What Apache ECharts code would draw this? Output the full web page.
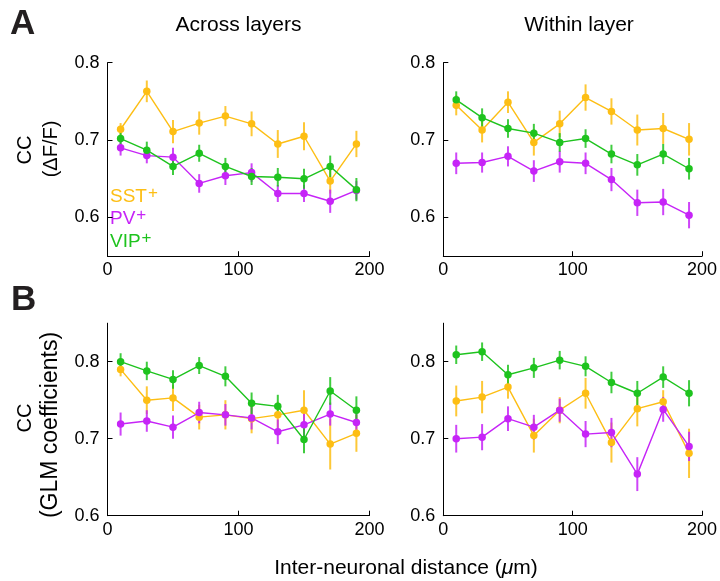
<!DOCTYPE html>
<html>
<head>
<meta charset="utf-8">
<script src="https://cdn.jsdelivr.net/npm/echarts@6/dist/echarts.min.js"></script>
<style>
html,body{margin:0;padding:0;background:#fff;}
#chart{width:720px;height:581px;}
</style>
</head>
<body>
<div id="chart"></div>
<script>
// ---- Data ----
const distances = [10, 30, 50, 70, 90, 110, 130, 150, 170, 190];
const xTicks = [0, 100, 200];
const yTicks = [0.6, 0.7, 0.8];

// Panel A, across layers
const sstA1 = [0.714, 0.763, 0.711, 0.722, 0.731, 0.721, 0.695, 0.705, 0.647, 0.695];
const sstA1err = [0.008, 0.014, 0.015, 0.015, 0.013, 0.016, 0.018, 0.018, 0.016, 0.017];
const pvA1 = [0.690, 0.680, 0.678, 0.644, 0.654, 0.658, 0.631, 0.631, 0.621, 0.635];
const pvA1err = [0.010, 0.010, 0.012, 0.012, 0.012, 0.012, 0.011, 0.011, 0.015, 0.012];
const vipA1 = [0.702, 0.687, 0.666, 0.683, 0.666, 0.653, 0.652, 0.650, 0.666, 0.636];
const vipA1err = [0.008, 0.011, 0.011, 0.011, 0.011, 0.011, 0.012, 0.013, 0.014, 0.015];

// Panel A, within layer
const sstA2 = [0.745, 0.713, 0.749, 0.697, 0.721, 0.755, 0.737, 0.713, 0.715, 0.701];
const sstA2err = [0.013, 0.016, 0.014, 0.017, 0.017, 0.017, 0.017, 0.020, 0.020, 0.021];
const pvA2 = [0.670, 0.671, 0.679, 0.660, 0.672, 0.670, 0.649, 0.619, 0.620, 0.603];
const pvA2err = [0.014, 0.013, 0.013, 0.014, 0.014, 0.014, 0.015, 0.017, 0.017, 0.017];
const vipA2 = [0.752, 0.729, 0.715, 0.709, 0.697, 0.702, 0.682, 0.668, 0.682, 0.663];
const vipA2err = [0.011, 0.012, 0.012, 0.012, 0.012, 0.012, 0.012, 0.014, 0.013, 0.014];

// Panel B, across layers
const sstB1 = [0.790, 0.750, 0.753, 0.728, 0.731, 0.726, 0.731, 0.737, 0.693, 0.707];
const sstB1err = [0.009, 0.018, 0.017, 0.016, 0.019, 0.019, 0.017, 0.026, 0.033, 0.024];
const pvB1 = [0.719, 0.723, 0.715, 0.734, 0.731, 0.727, 0.709, 0.718, 0.732, 0.721];
const pvB1err = [0.015, 0.014, 0.015, 0.014, 0.014, 0.015, 0.016, 0.016, 0.015, 0.015];
const vipB1 = [0.800, 0.788, 0.777, 0.795, 0.781, 0.746, 0.742, 0.699, 0.762, 0.737];
const vipB1err = [0.011, 0.012, 0.012, 0.011, 0.013, 0.014, 0.015, 0.018, 0.018, 0.018];

// Panel B, within layer
const sstB2 = [0.749, 0.754, 0.767, 0.704, 0.737, 0.759, 0.695, 0.739, 0.748, 0.681];
const sstB2err = [0.020, 0.021, 0.015, 0.022, 0.017, 0.020, 0.026, 0.023, 0.015, 0.032];
const pvB2 = [0.700, 0.702, 0.726, 0.715, 0.737, 0.706, 0.708, 0.654, 0.738, 0.690];
const pvB2err = [0.018, 0.017, 0.016, 0.016, 0.015, 0.017, 0.019, 0.022, 0.016, 0.019];
const vipB2 = [0.809, 0.813, 0.783, 0.792, 0.802, 0.794, 0.773, 0.759, 0.780, 0.759];
const vipB2err = [0.012, 0.012, 0.013, 0.013, 0.012, 0.013, 0.014, 0.016, 0.014, 0.017];

const colors = { SST: '#FDBE14', PV: '#C624F7', VIP: '#1EC31E' };

const panels = [
  { grid: { left: 107.5, width: 262, top: 62.7, height: 193.5 }, yMin: 0.55, yMax: 0.8,
    sets: [['SST', sstA1, sstA1err], ['PV', pvA1, pvA1err], ['VIP', vipA1, vipA1err]] },
  { grid: { left: 443.3, width: 261, top: 62.7, height: 193.5 }, yMin: 0.55, yMax: 0.8,
    sets: [['SST', sstA2, sstA2err], ['PV', pvA2, pvA2err], ['VIP', vipA2, vipA2err]] },
  { grid: { left: 107.5, width: 262, top: 323.2, height: 192.5 }, yMin: 0.6, yMax: 0.85,
    sets: [['SST', sstB1, sstB1err], ['PV', pvB1, pvB1err], ['VIP', vipB1, vipB1err]] },
  { grid: { left: 443.3, width: 261, top: 323.2, height: 192.5 }, yMin: 0.6, yMax: 0.85,
    sets: [['SST', sstB2, sstB2err], ['PV', pvB2, pvB2err], ['VIP', vipB2, vipB2err]] }
];

const FONT = '"Liberation Sans", Arial, Helvetica, sans-serif';

const grids = [], xAxes = [], yAxes = [], series = [];
panels.forEach((p, i) => {
  grids.push(Object.assign({ containLabel: false }, p.grid));
  xAxes.push({
    type: 'value', gridIndex: i, min: 0, max: 200, interval: 100,
    axisLine: { show: true, onZero: false, lineStyle: { color: '#000', width: 1 } },
    axisTick: { show: true, inside: true, length: 5, lineStyle: { color: '#000' } },
    axisLabel: { show: true, color: '#000', fontSize: 18, fontFamily: FONT, margin: 5,
      customValues: xTicks },
    splitLine: { show: false }
  });
  yAxes.push({
    type: 'value', gridIndex: i, min: p.yMin, max: p.yMax,
    axisLine: { show: true, onZero: false, lineStyle: { color: '#000', width: 1 } },
    axisTick: { show: true, inside: true, length: 5, lineStyle: { color: '#000' }, customValues: yTicks },
    axisLabel: { show: true, color: '#000', fontSize: 18, fontFamily: FONT, margin: 8,
      padding: [4, 0, 0, 0], customValues: yTicks, formatter: v => v.toFixed(1) },
    splitLine: { show: false }
  });
  p.sets.forEach(([name, vals, errs]) => {
    const col = colors[name];
    series.push({
      type: 'custom', xAxisIndex: i, yAxisIndex: i, silent: true, clip: false,
      data: distances.map((d, k) => [d, vals[k], errs[k]]),
      encode: { x: 0, y: 1 },
      renderItem: (params, api) => {
        const x = api.value(0), y = api.value(1), e = api.value(2);
        const p1 = api.coord([x, y - e]), p2 = api.coord([x, y + e]);
        return { type: 'line', shape: { x1: p1[0], y1: p1[1], x2: p2[0], y2: p2[1] },
          style: { stroke: col, lineWidth: 2, opacity: 0.85 } };
      }
    });
    series.push({
      type: 'line', xAxisIndex: i, yAxisIndex: i, name: name, silent: true,
      data: distances.map((d, k) => [d, vals[k]]),
      symbol: 'circle', symbolSize: 7.5, showSymbol: true,
      lineStyle: { color: col, width: 1.4 },
      itemStyle: { color: col },
      animation: false
    });
  });
});

function legendText(label, col, y) {
  return { type: 'text', x: 110, y: y, style: {
    text: '{m|' + label + '}{s|+}', fill: col, align: 'left', verticalAlign: 'middle',
    rich: {
      m: { fontSize: 19, fontFamily: FONT, fill: col, color: col },
      s: { fontSize: 17, fontFamily: FONT, fill: col, color: col, padding: [0, 0, 8, 1] }
    } } };
}

function vText(str, x, y, size) {
  return { type: 'text', x: x, y: y, rotation: Math.PI / 2,
    style: { text: str, font: size + 'px ' + FONT, fill: '#000', align: 'center', verticalAlign: 'middle' } };
}

const graphic = [
  { type: 'text', left: 10, top: 7, style: { text: 'A', font: 'bold 35px ' + FONT, fill: '#231f20' } },
  { type: 'text', left: 11, top: 283, style: { text: 'B', font: 'bold 35px ' + FONT, fill: '#231f20' } },
  { type: 'text', x: 238.5, y: 25, style: { text: 'Across layers', font: '21px ' + FONT, fill: '#000', align: 'center', verticalAlign: 'middle' } },
  { type: 'text', x: 579, y: 25, style: { text: 'Within layer', font: '21px ' + FONT, fill: '#000', align: 'center', verticalAlign: 'middle' } },
  vText('CC', 25, 150, 20),
  vText('(ΔF/F)', 51, 149, 20),
  vText('CC', 25, 418, 20),
  vText('(GLM coefficients)', 51, 425, 23),
  legendText('SST', colors.SST, 197),
  legendText('PV', colors.PV, 219),
  legendText('VIP', colors.VIP, 242)
];

const chart = echarts.init(document.getElementById('chart'), null, { renderer: 'canvas' });
chart.setOption({
  animation: false,
  backgroundColor: '#fff',
  title: {
    text: 'Inter-neuronal distance ({i|μ}m)', left: 401, top: 553, textAlign: 'center',
    textStyle: { fontSize: 21, fontWeight: 'normal', fontFamily: FONT, color: '#000',
      rich: { i: { fontSize: 21, fontStyle: 'italic', fontFamily: FONT, color: '#000' } } }
  },
  grid: grids, xAxis: xAxes, yAxis: yAxes, series: series, graphic: graphic
});
</script>
</body>
</html>
